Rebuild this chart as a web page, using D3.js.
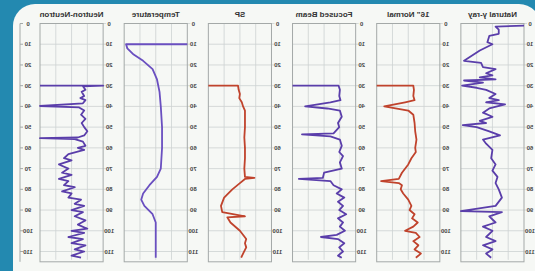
<!DOCTYPE html>
<html>
<head>
<meta charset="utf-8">
<script src="https://cdn.jsdelivr.net/npm/d3@7"></script>
<style>
  html, body { margin: 0; padding: 0; background: #2389b0; }
  svg { display: block; }
</style>
</head>
<body>
<div id="chart"></div>
<script>
(function () {
    'use strict';

    // ── 数据 (值 = 道宽百分比, 深度 m) ─────────────────────────────────────────
    const titles = ['Neutron-Neutron', 'Temperature', 'SP', 'Focused Beam', '16" Normal', 'Natural γ-ray'];
    const colors = ['#5a3eaa', '#6a4fc0', '#c0432c', '#5a3eaa', '#c0432c', '#5a3eaa'];
    const depthTicks = [0, 10, 20, 30, 40, 50, 60, 70, 80, 90, 100, 110];

    const neutron = [
        [0, 30], [100, 30], [68, 30.3], [72, 32], [66, 33], [70, 35], [64, 36], [72, 37], [68, 38.5],
        [0, 39.8], [62, 40.5], [70, 42], [65, 44], [72, 46], [66, 48], [70, 50], [75, 52], [70, 54],
        [60, 55], [0, 55.3], [55, 55.8], [68, 57], [72, 59], [60, 60], [70, 61], [45, 63], [38, 65],
        [50, 66], [30, 68], [45, 70], [35, 72], [50, 73], [30, 75], [45, 76], [38, 78], [55, 79],
        [35, 81], [50, 82], [45, 84], [65, 85], [55, 87], [70, 88], [50, 90], [68, 91], [55, 93],
        [72, 95], [60, 97], [75, 99], [50, 100], [70, 101], [45, 103], [68, 104], [50, 106],
        [72, 107], [55, 109], [70, 110], [50, 112], [65, 113]
    ];
    const temperature = [
        [100, 10], [3, 10], [5, 12], [15, 15], [30, 18], [45, 22], [52, 27], [56, 33], [58, 40],
        [60, 50], [60, 60], [58, 70], [52, 74], [40, 78], [30, 82], [27, 85], [32, 88], [45, 92],
        [50, 96], [50, 100], [50, 113]
    ];
    const sp = [
        [0, 30], [47, 30], [48, 32], [50, 34], [49, 36], [53, 38], [55, 40], [58, 42], [58, 50],
        [57, 55], [58, 60], [58, 65], [57, 70], [58, 74], [73, 74.5], [58, 75], [50, 77], [38, 80],
        [25, 84], [20, 88], [22, 91], [58, 93], [30, 93.5], [35, 96], [50, 100], [60, 104],
        [58, 106], [60, 108], [55, 111], [52, 113]
    ];
    const focusedBeam = [
        [0, 30], [73, 30], [75, 32], [74, 35], [76, 37], [60, 38], [20, 40], [55, 41], [75, 42],
        [78, 45], [72, 48], [74, 50], [65, 53], [15, 53.5], [60, 54.5], [75, 56], [78, 59], [74, 62],
        [80, 64], [75, 67], [78, 70], [50, 72], [48, 74.5], [10, 75], [60, 76], [65, 78], [78, 80],
        [70, 82], [82, 84], [72, 86], [80, 88], [74, 90], [85, 92], [72, 94], [80, 96], [75, 98],
        [83, 100], [70, 102], [45, 103], [72, 104], [82, 106], [74, 108], [80, 110], [72, 112], [78, 113]
    ];
    const normal16 = [
        [0, 30], [58, 30], [59, 32], [58, 35], [60, 37], [45, 38], [12, 40], [50, 42], [58, 44],
        [60, 48], [61, 52], [63, 56], [61, 60], [62, 62], [55, 65], [50, 68], [40, 72], [35, 75],
        [7, 76], [35, 77], [40, 78], [38, 80], [42, 82], [50, 85], [55, 88], [52, 90], [60, 92],
        [56, 94], [65, 96], [58, 98], [45, 100], [62, 101], [68, 103], [58, 105], [66, 107],
        [60, 109], [70, 111], [62, 113]
    ];
    const gammaRay = [
        [100, 1], [55, 1.5], [60, 3], [60, 5], [45, 6], [42, 9], [50, 10], [30, 13], [5, 18],
        [32, 19], [35, 21], [55, 22], [40, 24], [50, 25], [30, 26], [55, 27], [5, 27.5], [35, 28.5],
        [2, 30], [25, 31], [40, 32], [55, 34], [45, 36], [60, 37], [40, 38], [70, 39], [45, 41],
        [35, 43], [50, 45], [30, 47], [40, 48], [3, 49], [25, 50], [45, 52], [62, 54], [35, 56],
        [40, 58], [50, 61], [48, 65], [55, 68], [50, 71], [58, 74], [55, 77], [60, 80], [65, 84],
        [55, 88], [0, 90.5], [65, 91], [45, 93], [55, 96], [35, 98], [50, 100], [40, 103],
        [55, 105], [35, 107], [50, 109], [40, 111], [48, 113]
    ];
    const series = [neutron, temperature, sp, focusedBeam, normal16, gammaRay];

    // ── 画布 ─────────────────────────────────────────────────────────────────
    const W = 535, H = 271;
    const svg = d3.select('#chart').append('svg')
        .attr('width', W).attr('height', H);

    // 背景框 (上方圆角)
    svg.append('rect').attr('width', W).attr('height', H).attr('fill', '#2389b0');
    svg.append('rect')
        .attr('x', 13).attr('y', 4)
        .attr('width', W - 13 + 6).attr('height', H + 30)
        .attr('rx', 22)
        .attr('fill', '#f6f8f5');

    const font = '"Liberation Sans", Arial, sans-serif';

    // 镜像文字
    function mirrorText(sel, x, y) {
        return sel.append('text')
            .attr('transform', `translate(${x},${y}) scale(-1,1)`)
            .attr('text-anchor', 'middle')
            .style('font-family', font);
    }

    // ── 比例尺 ───────────────────────────────────────────────────────────────
    const y = d3.scaleLinear().domain([0, 114]).range([23.5, 259.8]);
    const band = d3.scaleBand().domain(titles).range([40, 524]).paddingInner(0.25);

    const gridColor = '#cdd2d2';
    const boxColor = '#a4a9a8';

    // 最左侧深度轴
    svg.append('line')
        .attr('x1', 20).attr('x2', 20)
        .attr('y1', y(0)).attr('y2', y(114) + 2)
        .attr('stroke', boxColor).attr('stroke-width', 1);
    depthTicks.forEach(d => {
        svg.append('line')
            .attr('x1', 20).attr('x2', 23)
            .attr('y1', y(d)).attr('y2', y(d))
            .attr('stroke', boxColor);
        mirrorText(svg, 28, y(d) + 2)
            .style('font-size', '6px').style('font-weight', 'bold')
            .attr('fill', '#444').text(d);
    });

    // ── 各测井道 ──────────────────────────────────────────────────────────────
    titles.forEach((t, i) => {
        const x0 = band(t), bw = band.bandwidth();
        const x = d3.scaleLinear().domain([0, 100]).range([x0, x0 + bw]);
        const g = svg.append('g');

        // 网格
        depthTicks.forEach(d => {
            g.append('line')
                .attr('x1', x0).attr('x2', x0 + bw + 3)
                .attr('y1', y(d)).attr('y2', y(d))
                .attr('stroke', gridColor).attr('stroke-width', 0.8);
        });
        [25, 50, 75].forEach(v => {
            g.append('line')
                .attr('x1', x(v)).attr('x2', x(v))
                .attr('y1', y(0)).attr('y2', y(114))
                .attr('stroke', gridColor).attr('stroke-width', 0.8);
        });
        g.append('rect')
            .attr('x', x0).attr('y', y(0))
            .attr('width', bw).attr('height', y(114) - y(0) + 2)
            .attr('fill', 'none')
            .attr('stroke', boxColor).attr('stroke-width', 1);

        // 深度标签
        depthTicks.forEach(d => {
            mirrorText(g, x0 + bw + 6, y(d) + 2)
                .style('font-size', '6px').style('font-weight', 'bold')
                .attr('fill', '#444').text(d);
        });

        // 标题
        mirrorText(g, x0 + bw / 2, 17)
            .style('font-size', '8px').style('font-weight', 'bold')
            .attr('fill', '#333').text(t);

        // 曲线
        const line = d3.line()
            .x(p => x(p[0]))
            .y(p => y(p[1]));
        g.append('path')
            .datum(series[i])
            .attr('d', line)
            .attr('fill', 'none')
            .attr('stroke', colors[i])
            .attr('stroke-width', 1.8)
            .attr('stroke-linejoin', 'round');
    });
})();
</script>
</body>
</html>
